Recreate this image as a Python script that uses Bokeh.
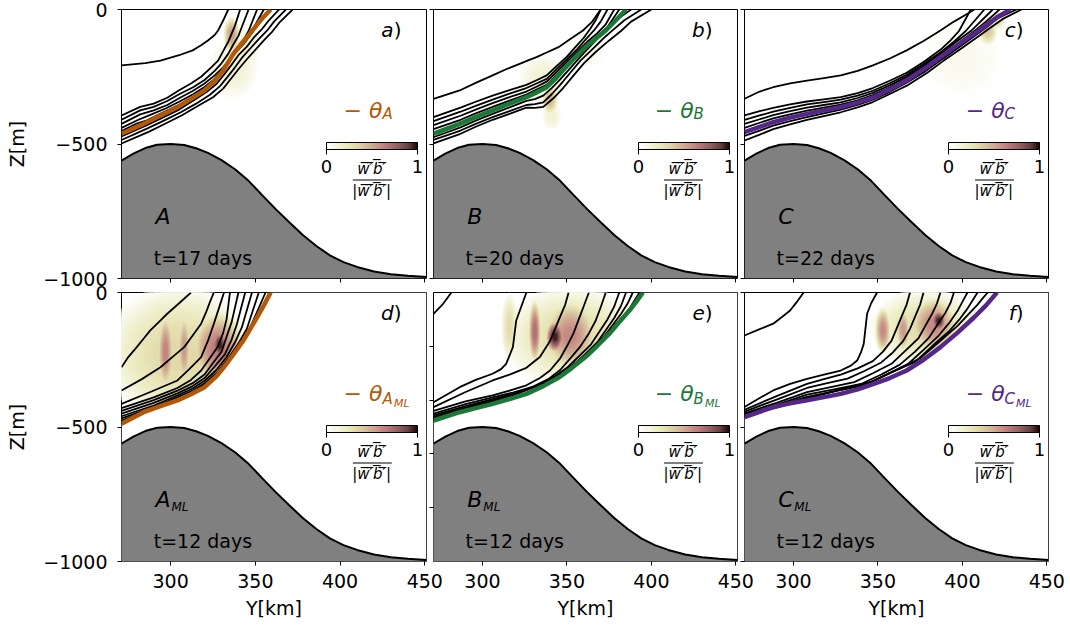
import math
from bokeh.plotting import figure
from bokeh.layouts import column, row
from bokeh.models import (Label, ColorBar, LinearColorMapper, FixedTicker,
                          BoxAnnotation, ColumnDataSource)
from bokeh.embed import file_html
from bokeh.resources import INLINE

FONT = "DejaVu Sans"
Y_MIN, Y_MAX = 271.0, 451.0
Z_MIN, Z_MAX = -1000.0, 0.0
X_TICKS = [300, 350, 400, 450]
Z_TICKS = [0, -500, -1000]
Z_TICKS_E = [-200, -400, -600, -800]
Z_LABELS = {0: "0", -500: "\u2212500", -1000: "\u22121000"}

ORANGE = "#b35806"
GREEN = "#1b7837"
PURPLE = "#542788"

# pink_r colormap stops (value 0 -> 1)
PINK_R = ["#ffffff", "#f6f6e4", "#ededc6", "#e4deae", "#dac6a1", "#d0ab93",
          "#c68b84", "#b07272", "#8f5d5d", "#654242", "#1e0000"]

# ---------------- bathymetry (shared) ----------------
topo_y = [271, 278, 285, 292, 300, 308, 315, 322, 330, 338, 346, 354, 362, 370,
          378, 386, 394, 402, 410, 420, 430, 440, 451]
topo_z = [-562, -536, -515, -503, -500, -504, -516, -533, -560, -594, -637, -690,
          -742, -791, -838, -879, -914, -939, -957, -974, -984, -990, -994]

# ---------------- panel a ----------------
a_front_y = [271, 284, 294, 304, 312, 320, 326, 331, 337, 341, 345, 349, 353, 359]
a_front_z = [-462, -425, -394, -363, -332, -301, -265, -227, -165, -133, -103, -72, -41, 0]
a_lines_y = [[271, 285, 294, 305, 313, 318, 322, 326, 328, 331, 334],
             [271, 282, 290, 298, 305, 312, 318, 324, 328, 331, 334, 336, 338, 341],
             [271, 282, 290, 298, 305, 313, 320, 326, 330, 334, 337, 340, 342, 346],
             [271, 282, 290, 298, 305, 313, 320, 326, 331, 335, 339, 343, 346, 351],
             [271, 281, 288, 297, 305, 313, 320, 326, 330, 334, 338, 343, 347, 355],
             [271, 280, 286, 296, 305, 313, 320, 326, 330, 334, 338, 343, 347, 358],
             [271, 285, 295, 305, 313, 321, 327, 331, 336, 340, 345, 349, 354, 358, 364],
             [271, 286, 296, 306, 315, 323, 329, 333, 338, 342, 347, 352, 357, 361, 368],
             [271, 287, 297, 307, 316, 325, 331, 335, 340, 345, 350, 355, 360, 364, 372]]
a_lines_z = [[-208, -199, -190, -170, -152, -133, -115, -95, -78, -41, 0],
             [-394, -362, -350, -328, -300, -275, -250, -215, -190, -155, -120, -90, -60, 0],
             [-410, -375, -362, -340, -315, -290, -262, -228, -200, -165, -130, -98, -65, 0],
             [-425, -390, -375, -355, -330, -303, -275, -245, -215, -183, -150, -113, -80, 0],
             [-440, -410, -392, -368, -343, -316, -288, -258, -228, -195, -160, -123, -90, 0],
             [-452, -424, -412, -381, -354, -327, -296, -266, -234, -198, -162, -129, -96, 0],
             [-472, -433, -403, -372, -340, -308, -277, -246, -205, -170, -138, -105, -72, -40, 0],
             [-485, -443, -413, -382, -350, -318, -286, -255, -215, -180, -145, -110, -78, -45, 0],
             [-498, -455, -424, -392, -359, -326, -294, -262, -222, -185, -150, -115, -82, -50, 0]]
a_heat_y = [336, 337, 344]
a_heat_z = [-95, -220, -140]
a_heat_w = [10, 30, 18]
a_heat_h = [140, 230, 170]
a_heat_v = [0.55, 0.15, 0.15]

# ---------------- panel b ----------------
b_front_y = [271, 286.5, 296, 306, 316, 326, 332, 338, 344, 349.5, 355, 361, 367, 373, 379, 385]
b_front_z = [-462, -425, -400, -375, -350, -326, -308, -289, -252, -214, -177, -140, -109, -78, -40, 0]
b_lines_y = [[271, 286.5, 296, 306, 314, 322, 327, 332, 338, 345, 352, 359.5, 365, 370],
             [271, 287, 296, 306, 316, 326, 332, 338, 344, 350, 355, 360, 364, 367, 370],
             [271, 287, 296, 306, 316, 326, 332, 338, 344, 350, 356, 361, 366, 370, 374],
             [271, 287, 296, 306, 316, 326, 332, 338, 344, 350, 356, 362, 368, 373, 378],
             [271, 287, 296, 306, 316, 326, 332, 338, 344, 350, 356, 362, 368, 374, 381],
             [271, 287, 296, 306, 316, 326, 331, 336, 341, 346, 352, 358, 364, 370, 375, 380, 388],
             [271, 287, 296, 306, 316, 326, 331, 336, 341, 346, 352, 358, 365, 372, 378, 384, 394],
             [271, 287, 296, 306, 316, 326, 331, 336, 342, 348, 354, 360, 367, 375, 382, 388, 400]]
b_lines_z = [[-332, -301, -273, -245, -222, -202, -189, -177, -160, -140, -110, -78, -45, 0],
             [-400, -365, -343, -320, -300, -280, -263, -245, -210, -175, -140, -105, -70, -40, 0],
             [-415, -380, -358, -335, -313, -292, -275, -258, -222, -185, -148, -112, -78, -45, 0],
             [-430, -395, -372, -348, -326, -305, -287, -268, -232, -195, -158, -120, -88, -55, 0],
             [-445, -410, -386, -362, -339, -316, -298, -280, -243, -205, -168, -130, -98, -65, 0],
             [-475, -438, -413, -388, -364, -340, -333, -320, -292, -260, -218, -175, -135, -95, -65, -35, 0],
             [-485, -450, -425, -400, -378, -355, -352, -345, -315, -280, -235, -190, -148, -105, -72, -40, 0],
             [-498, -462, -436, -410, -388, -365, -366, -362, -330, -290, -245, -200, -158, -115, -80, -45, 0]]
b_heat_y = [340, 341, 336, 362]
b_heat_z = [-335, -395, -260, -150]
b_heat_w = [10, 12, 30, 22]
b_heat_h = [120, 110, 190, 140]
b_heat_v = [0.45, 0.15, 0.15, 0.08]

# ---------------- panel c ----------------
c_front_y = [271, 280, 288, 298, 308, 318, 328, 338, 347.5, 357, 367, 377, 387, 397, 407, 414, 420.5, 428.5]
c_front_z = [-456, -436, -419, -402, -388, -375, -363, -346, -326, -297, -264, -222, -177, -133, -90, -58, -29, 0]
c_lines_y = [[271, 280, 288, 298, 308, 318, 328, 338, 347, 357, 367, 377, 387, 395, 403, 407],
             [271, 280, 288, 298, 308, 318, 328, 338, 347, 357, 367, 377, 387, 393, 398, 405],
             [271, 280, 288, 298, 308, 318, 328, 338, 347, 357, 367, 377, 387, 395, 402, 413],
             [271, 280, 288, 298, 308, 318, 328, 338, 347, 357, 367, 377, 387, 396, 405, 418],
             [271, 280, 288, 298, 308, 318, 328, 338, 347, 357, 367, 377, 387, 397, 406, 414, 422],
             [271, 280, 288, 298, 308, 318, 328, 338, 347, 357, 367, 378, 388, 398, 408, 415, 421, 432],
             [271, 280, 288, 298, 308, 318, 328, 338, 347, 357, 368, 379, 389, 400, 410, 417, 424, 435]]
c_lines_z = [[-332, -305, -289, -275, -264, -255, -245, -228, -208, -182, -152, -117, -78, -45, -16, 0],
             [-394, -378, -366, -353, -342, -334, -326, -311, -292, -265, -235, -195, -150, -115, -80, 0],
             [-410, -394, -380, -366, -353, -344, -335, -320, -302, -274, -243, -203, -160, -120, -80, 0],
             [-425, -408, -393, -378, -365, -355, -345, -329, -310, -282, -250, -209, -165, -122, -80, 0],
             [-440, -421, -405, -390, -376, -365, -354, -338, -318, -290, -257, -215, -171, -128, -85, -45, 0],
             [-470, -450, -432, -415, -400, -386, -372, -355, -335, -306, -272, -230, -185, -140, -95, -62, -32, 0],
             [-487, -465, -445, -427, -410, -396, -382, -364, -344, -314, -280, -236, -190, -142, -98, -66, -35, 0]]
c_heat_y = [415, 400, 421]
c_heat_z = [-80, -190, -40]
c_heat_w = [12, 50, 9]
c_heat_h = [110, 280, 70]
c_heat_v = [0.40, 0.06, 0.30]

# ---------------- panel d ----------------
d_front_y = [271, 284, 294, 304, 312, 320, 327, 333, 338, 343, 347, 351, 355, 359]
d_front_z = [-488, -445, -422, -401, -378, -352, -312, -265, -222, -178, -135, -92, -48, 0]
d_lines_y = [[271, 275, 280, 284, 288, 293, 298, 305, 312],
             [271, 283, 294, 301, 308, 313, 318, 321, 323.5, 325.5],
             [271, 288, 304, 311, 318, 322, 325.5, 328.5, 331.5],
             [271, 290, 304, 312, 318, 323, 328, 331, 333, 335],
             [271, 290, 304, 313, 320, 325, 330, 333, 336, 340],
             [271, 290, 304, 313, 320, 326, 332, 336, 339, 344],
             [271, 290, 304, 313, 320, 327, 333, 338, 342, 348],
             [271, 290, 304, 313, 320, 328, 334, 340, 345, 352],
             [271, 290, 304, 313, 320, 328, 334, 341, 347, 356]]
d_lines_z = [[-278, -240, -203, -172, -141, -110, -79, -40, 0],
             [-364, -322, -278, -240, -203, -160, -116, -72, -30, 0],
             [-414, -370, -327, -285, -240, -180, -116, -58, 0],
             [-430, -390, -355, -325, -290, -245, -200, -150, -100, 0],
             [-440, -400, -365, -337, -305, -262, -220, -165, -110, 0],
             [-450, -410, -375, -348, -318, -275, -230, -175, -120, 0],
             [-460, -420, -383, -357, -328, -288, -240, -185, -130, 0],
             [-468, -426, -390, -365, -337, -294, -245, -190, -135, 0],
             [-476, -430, -395, -372, -345, -300, -250, -190, -130, 0]]
d_heat_y = [305, 297, 308, 328, 329]
d_heat_z = [-230, -220, -210, -210, -195]
d_heat_w = [90, 10, 8, 34, 10]
d_heat_h = [520, 300, 280, 300, 120]
d_heat_v = [0.32, 0.62, 0.55, 0.65, 0.95]

# ---------------- panel e ----------------
e_front_y = [271, 286.5, 296, 306, 316, 326, 336, 345.5, 353, 361, 368, 375, 381, 387, 391, 395]
e_front_z = [-476, -445, -430, -414, -396, -377, -348, -315, -280, -240, -198, -154, -110, -67, -35, 0]
e_lines_y = [[271, 274, 276.7, 279, 281.6],
             [271, 286.5, 296, 306, 311, 314, 316, 318, 320, 323, 326],
             [271, 290, 306, 316, 326, 334, 340, 343, 346, 349, 351],
             [271, 290, 306, 316, 326, 334, 340, 346, 350, 354, 357, 360, 363],
             [271, 290, 306, 318, 330, 339, 346, 352, 358, 363, 367, 370, 373],
             [271, 290, 306, 320, 333, 342, 350, 357, 364, 369, 374, 378, 381],
             [271, 290, 306, 321, 336, 345, 354, 361, 368, 373, 378, 382, 385],
             [271, 290, 306, 323, 340, 349, 358, 365, 372, 377, 382, 386, 389],
             [271, 290, 306, 324, 342, 352, 362, 370, 378, 383, 387, 390, 393]]
e_lines_z = [[-79, -60, -42, -22, 0],
             [-408, -352, -325, -302, -285, -265, -235, -203, -104, -52, 0],
             [-426, -370, -327, -305, -280, -240, -180, -135, -90, -45, 0],
             [-440, -405, -382, -365, -345, -318, -290, -245, -200, -150, -100, -50, 0],
             [-450, -415, -390, -372, -350, -322, -288, -245, -200, -152, -105, -55, 0],
             [-457, -422, -396, -374, -345, -315, -280, -238, -195, -148, -100, -52, 0],
             [-462, -428, -400, -373, -338, -305, -270, -228, -185, -140, -95, -50, 0],
             [-466, -432, -406, -370, -330, -292, -250, -208, -165, -122, -80, -40, 0],
             [-470, -436, -410, -368, -322, -276, -228, -176, -125, -90, -60, -30, 0]]
e_heat_y = [353, 316, 331, 352, 343]
e_heat_z = [-165, -130, -145, -160, -165]
e_heat_w = [85, 10, 8, 34, 12]
e_heat_h = [380, 260, 250, 280, 130]
e_heat_v = [0.30, 0.30, 0.70, 0.60, 0.95]

# ---------------- panel f ----------------
f_front_y = [271, 288, 298, 308, 318, 328, 338, 347.5, 357, 367, 377, 387, 397, 407, 414, 420.5]
f_front_z = [-463, -426, -412, -401, -389, -377, -360, -340, -318, -290, -250, -203, -150, -92, -48, 0]
f_lines_y = [[271, 280, 288, 293, 298, 302, 306],
             [271, 280, 288, 298, 308, 318, 328, 334, 337.7, 340, 341.6, 342.6, 343.6, 346, 349.5],
             [271, 290, 308, 318, 328, 338, 347, 353, 358, 361, 364, 367, 369],
             [271, 290, 308, 320, 332, 342, 352, 359, 365, 369, 372, 375, 377],
             [271, 290, 308, 322, 336, 347, 358, 366, 374, 378, 382, 385, 387],
             [271, 290, 308, 324, 340, 352, 363, 372, 380, 385, 390, 393, 395],
             [271, 290, 308, 325, 342, 355, 368, 377, 386, 392, 397, 400, 403],
             [271, 290, 308, 326, 345, 358, 372, 382, 392, 398, 403, 406, 409],
             [271, 290, 308, 327, 347, 361, 375, 386, 397, 403, 409, 412, 415]]
f_lines_z = [[-160, -136, -116, -92, -67, -35, 0],
             [-426, -392, -364, -340, -321, -305, -290, -272, -253, -222, -191, -135, -79, -40, 0],
             [-436, -385, -340, -322, -305, -282, -255, -220, -180, -135, -90, -45, 0],
             [-443, -398, -355, -337, -320, -292, -260, -222, -180, -135, -90, -45, 0],
             [-449, -410, -370, -352, -333, -300, -265, -218, -170, -125, -80, -40, 0],
             [-453, -418, -380, -360, -340, -305, -268, -220, -170, -122, -75, -38, 0],
             [-456, -422, -388, -367, -345, -305, -265, -213, -160, -115, -70, -35, 0],
             [-458, -425, -392, -364, -335, -297, -258, -200, -145, -102, -60, -30, 0],
             [-460, -428, -395, -362, -330, -288, -245, -185, -125, -85, -45, -22, 0]]
f_heat_y = [378, 353, 365, 383, 386]
f_heat_z = [-130, -140, -140, -120, -105]
f_heat_w = [66, 10, 9, 30, 10]
f_heat_h = [290, 180, 170, 220, 90]
f_heat_v = [0.30, 0.60, 0.55, 0.60, 0.95]

# ---------------- panel texts ----------------
letters = ["a", "b", "c", "d", "e", "f"]
names = ["A", "B", "C", "A", "B", "C"]
name_subs = ["", "", "", "ML", "ML", "ML"]
times = ["t=17 days", "t=20 days", "t=22 days", "t=12 days", "t=12 days", "t=12 days"]
colors = [ORANGE, GREEN, PURPLE, ORANGE, GREEN, PURPLE]

PANEL_DATA = {
    "a": (a_front_y, a_front_z, a_lines_y, a_lines_z, a_heat_y, a_heat_z, a_heat_w, a_heat_h, a_heat_v),
    "b": (b_front_y, b_front_z, b_lines_y, b_lines_z, b_heat_y, b_heat_z, b_heat_w, b_heat_h, b_heat_v),
    "c": (c_front_y, c_front_z, c_lines_y, c_lines_z, c_heat_y, c_heat_z, c_heat_w, c_heat_h, c_heat_v),
    "d": (d_front_y, d_front_z, d_lines_y, d_lines_z, d_heat_y, d_heat_z, d_heat_w, d_heat_h, d_heat_v),
    "e": (e_front_y, e_front_z, e_lines_y, e_lines_z, e_heat_y, e_heat_z, e_heat_w, e_heat_h, e_heat_v),
    "f": (f_front_y, f_front_z, f_lines_y, f_lines_z, f_heat_y, f_heat_z, f_heat_w, f_heat_h, f_heat_v),
}

# ---------------- layout constants ----------------
COLS = [(121, 305, 3), (3, 305, 3), (4, 304, 22)]
ROWS = [(9, 269, 7), (7, 269, 67)]
OV_X = 22   # horizontal canvas overlap (bottom row) so "450" is not clipped
OV_Y = 14   # vertical canvas overlap so "-1000" / "0" are not clipped
TICK_OUT = 4
X_STANDOFF = 8
TICK_FS = "19px"


def hex_rgb(h):
    return tuple(int(h[i:i + 2], 16) for i in (1, 3, 5))


def cmap(v):
    v = min(max(v, 0.0), 1.0) * (len(PINK_R) - 1)
    i = min(int(v), len(PINK_R) - 2)
    t = v - i
    c0, c1 = hex_rgb(PINK_R[i]), hex_rgb(PINK_R[i + 1])
    return "#%02x%02x%02x" % tuple(int(round(a + (b - a) * t)) for a, b in zip(c0, c1))


PAL256 = [cmap(i / 255) for i in range(256)]


def heat_source(hy, hz, hw, hh, hv, K=18):
    # each blob is drawn as nested ellipses (dome profile), highest values on top
    rows_ = []
    for y, z, w, h, v in zip(hy, hz, hw, hh, hv):
        for j in range(K):
            f = (j + 0.5) / K
            r = math.sqrt(1.0 - f + 0.5 / K)
            rows_.append((v * min(1.0, f + 0.5 / K), y, z, w * r, h * r))
    rows_.sort(key=lambda t: t[0])
    return ColumnDataSource(dict(
        x=[t[1] for t in rows_], y=[t[2] for t in rows_],
        w=[t[3] for t in rows_], h=[t[4] for t in rows_],
        c=[cmap(t[0]) for t in rows_]))


def lab(p, x, y, text, size, style="normal", color="black", align="left",
        baseline="middle"):
    p.add_layout(Label(x=x, y=y, text=text, text_font=FONT, text_font_size=size,
                       text_font_style=style, text_color=color, text_align=align,
                       text_baseline=baseline))


def hide_labels(ax, ticks):
    ax.major_label_overrides = {t: "" for t in ticks}
    ax.major_label_text_font_size = "1px"
    ax.major_label_standoff = 0


def make_panel(idx):
    r, c = divmod(idx, 3)
    key = letters[idx]
    bl, fw, br = COLS[c]
    bt, fh, bb = ROWS[r]
    if r == 0:
        bb = bb + OV_Y
    else:
        bt = bt + OV_Y
        if c < 2:
            br = br + OV_X
    p = figure(width=bl + fw + br, height=bt + fh + bb,
               x_range=(Y_MIN, Y_MAX), y_range=(Z_MIN, Z_MAX),
               output_backend="svg", toolbar_location=None,
               min_border_left=bl, min_border_right=br,
               min_border_top=bt, min_border_bottom=bb)
    if r == 1 and c > 0:
        p.margin = (0, 0, 0, -OV_X)
    p.title.visible = False
    p.grid.visible = False
    p.outline_line_color = "black"
    p.outline_line_width = 1
    p.outline_line_alpha = 1
    p.background_fill_color = "white"
    p.border_fill_color = "white"
    if r == 1:
        p.border_fill_alpha = 0

    for ax in (p.xaxis[0], p.yaxis[0]):
        ax.axis_line_color = None
        ax.major_tick_line_color = "black"
        ax.major_tick_out = TICK_OUT
        ax.major_tick_in = 0
        ax.minor_tick_line_color = None
        ax.major_label_text_font = FONT
        ax.major_label_text_font_size = TICK_FS
        ax.major_label_text_color = "black"
        ax.axis_label_text_font = FONT
        ax.axis_label_text_font_size = "19px"
        ax.axis_label_text_font_style = "normal"
        ax.axis_label_text_color = "black"

    zt = Z_TICKS_E if key == "e" else Z_TICKS
    p.xaxis.ticker = FixedTicker(ticks=X_TICKS)
    p.yaxis.ticker = FixedTicker(ticks=zt)

    if r == 0:
        hide_labels(p.xaxis[0], X_TICKS)
    else:
        p.xaxis.major_label_standoff = X_STANDOFF
        p.xaxis.axis_label = "Y[km]"
        p.xaxis.axis_label_standoff = 6
    if c == 0:
        p.yaxis.major_label_overrides = dict(Z_LABELS)
        p.yaxis.axis_label = "Z[m]"
        p.yaxis.major_label_standoff = 10
        p.yaxis.axis_label_standoff = 12
    else:
        hide_labels(p.yaxis[0], zt)

    fy, fz, ly, lz, hy, hz, hw, hh, hv = PANEL_DATA[key]
    col = colors[idx]

    # heat field w'b'
    src = heat_source(hy, hz, hw, hh, hv)
    p.ellipse(x="x", y="y", width="w", height="h", fill_color="c",
              line_color=None, source=src)
    if r == 1:
        p.patch(x=list(fy) + [Y_MAX, Y_MAX, Y_MIN], y=list(fz) + [Z_MAX, Z_MIN, Z_MIN],
                fill_color="white", line_color=None)

    # bathymetry
    p.varea(x=topo_y, y1=topo_z, y2=[Z_MIN] * len(topo_y), fill_color="#808080")
    p.line(topo_y, topo_z, line_color="black", line_width=2)

    # density contours and front
    p.multi_line(xs=ly, ys=lz, line_color="black", line_width=1.8,
                 line_join="round")
    p.line(fy, fz, line_color=col, line_width=4.5, line_join="round")

    # texts
    lab(p, 431.6, -78, key, "20px", style="italic", align="right")
    lab(p, 431.6, -78, ")", "20px", align="left")
    lab(p, 402, -377, "\u2212 \u03b8", "22px", style="italic", color=col)
    if name_subs[idx]:
        lab(p, 425, -396, names[idx], "15px", style="italic", color=col)
        lab(p, 431.8, -414, name_subs[idx], "11px", style="italic", color=col)
    else:
        lab(p, 425, -388, names[idx], "15px", style="italic", color=col)
    lab(p, 291, -768, names[idx], "22px", style="italic")
    if name_subs[idx]:
        lab(p, 300.5, -797, name_subs[idx], "12px", style="italic")
    lab(p, 290, -924, times[idx], "19px")

    # colorbar
    mapper = LinearColorMapper(palette=PAL256, low=0, high=1)
    cb = ColorBar(color_mapper=mapper, orientation="horizontal",
                  location=(205 if c < 2 else 204, 103), width=91, height=7,
                  padding=0, ticker=FixedTicker(ticks=[0, 1]),
                  major_label_text_font=FONT, major_label_text_font_size="18px",
                  major_label_text_color="black",
                  major_tick_line_color="black", major_tick_out=5, major_tick_in=0,
                  label_standoff=5,
                  bar_line_color="black", bar_line_width=1,
                  border_line_color=None, background_fill_alpha=0)
    p.add_layout(cb, "center")
    ov = "\u0305"
    wb = "w" + ov + "\u2032" + ov + "b" + ov + "\u2032" + ov
    lab(p, 418.6, -592, wb, "15px", style="italic", align="center")
    p.add_layout(BoxAnnotation(left=407.5, right=430.5, bottom=-636, top=-632,
                               fill_color="black", fill_alpha=1, line_color=None))
    lab(p, 418.6, -676, "|" + wb + "|", "15px", style="italic", align="center")
    return p


figs = [make_panel(i) for i in range(6)]
top = row(*figs[:3], spacing=0)
bottom = row(*figs[3:], spacing=0)
bottom.margin = (-2 * OV_Y, 0, 0, 0)
layout = column(top, bottom, spacing=0)
open("out.html", "w").write(file_html(layout, INLINE))
